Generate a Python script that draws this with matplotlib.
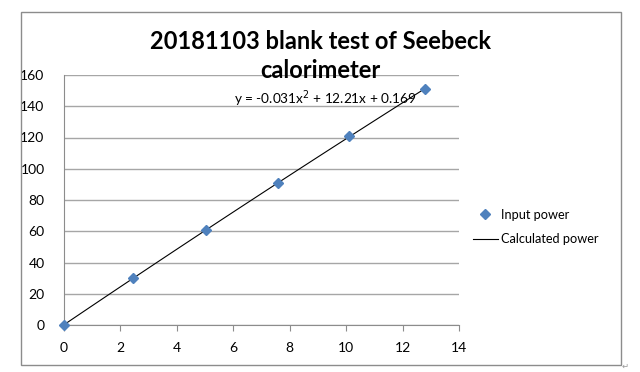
import numpy as np
import matplotlib
matplotlib.use('Agg')
import matplotlib.pyplot as plt
from matplotlib.patches import Rectangle

# data
time_x = [0, 2.45, 5.05, 7.6, 10.1, 12.8]
input_power = [0, 30, 61, 91, 121, 151]
fit_coef = [-0.031, 12.21, 0.169]   # y = a x^2 + b x + c
x_ticks = [0, 2, 4, 6, 8, 10, 12, 14]
y_ticks = [0, 20, 40, 60, 80, 100, 120, 140, 160]

plt.rcParams['font.family'] = ['Lato', 'DejaVu Sans']

W, H = 640, 372
fig = plt.figure(figsize=(6.4, 3.72), dpi=100)

# outer chart frame
fig.patches.append(Rectangle((20.5 / W, 1 - 365 / H), (621 - 20.5) / W, (365 - 12) / H,
                             transform=fig.transFigure, fill=False, edgecolor='#8c8c8c', lw=1))

# plot area: x 64..459 px, y 75..325 px
ax = fig.add_axes([64 / W, 1 - 325 / H, (459 - 64) / W, (325 - 75) / H])

xs = np.linspace(time_x[0], time_x[-1], 100)
ax.plot(xs, np.polyval(fit_coef, xs), color='black', lw=0.8, label='Calculated power', zorder=2)
ax.plot(time_x, input_power, 'D', color='#4F81BD', ms=5.5, label='Input power',
        zorder=3, clip_on=False, linestyle='none')

ax.set_xlim(0, 14)
ax.set_ylim(0, 160)
ax.set_xticks(x_ticks)
ax.set_yticks(y_ticks)
ax.yaxis.grid(True, color='#a6a6a6', lw=1)
ax.set_axisbelow(True)
for s in ['top', 'right']:
    ax.spines[s].set_visible(False)
for s in ['left', 'bottom']:
    ax.spines[s].set_color('#8c8c8c')
ax.tick_params(axis='x', direction='out', length=4, color='#8c8c8c', labelsize=10, pad=8)
ax.tick_params(axis='y', length=0, labelsize=10, pad=14)

ax.text(0.43, 0.905, 'y = -0.031x$^2$ + 12.21x + 0.169', transform=ax.transAxes,
        fontsize=9.8, ha='left', va='center')

fig.text(320 / W, 1 - 56 / H, '20181103 blank test of Seebeck\ncalorimeter',
         ha='center', va='center', fontsize=17, fontweight='bold', linespacing=1.3)

handles, labels = ax.get_legend_handles_labels()
fig.legend(handles[::-1], labels[::-1], loc='center left', bbox_to_anchor=(461 / W, 1 - 227 / H),
           frameon=False, fontsize=9.2, handlelength=2, handletextpad=0.2, labelspacing=1.0)

fig.text(625 / W, 1 - 366 / H, '\u21b5', fontsize=6, color='#999999', ha='center', va='center')

plt.savefig('out.png', dpi=100)
